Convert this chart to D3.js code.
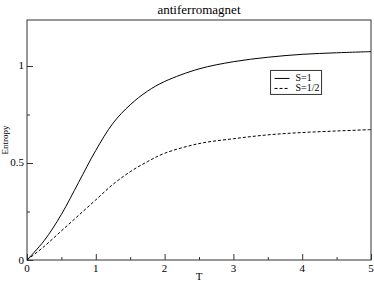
<!DOCTYPE html>
<html>
<head>
<meta charset="utf-8">
<script src="https://cdn.jsdelivr.net/npm/d3@7"></script>
<style>
  body { margin: 0; background: #fff; }
</style>
</head>
<body>
<svg id="chart"></svg>
<script>
// temperature grid and entropy
const temps = [0, 0.25, 0.5, 0.75, 1, 1.25, 1.5, 1.75, 2, 2.5, 3, 3.5, 4, 4.5, 5]
const entropyS1 = [0, 0.10, 0.235, 0.40, 0.565, 0.705, 0.80, 0.87, 0.92, 0.985, 1.022, 1.045, 1.06, 1.068, 1.074]
const entropyShalf = [0, 0.07, 0.15, 0.23, 0.31, 0.39, 0.455, 0.507, 0.55, 0.60, 0.625, 0.645, 0.657, 0.665, 0.672]
const seriesNames = ['S=1', 'S=1/2']
const xTicks = [0, 1, 2, 3, 4, 5]
const yTicks = [0, 0.5, 1]

const FONT = 'Liberation Serif'

const config = {
    width: 374, height: 281,
    margin: {top: 20, right: 3, bottom: 21, left: 27}
}
const w = config.width - config.margin.left - config.margin.right
const h = config.height - config.margin.top - config.margin.bottom

const svg = d3.select('#chart')
    .attr('width', config.width)
    .attr('height', config.height)
    .attr('font-family', FONT)

const chart = svg.append('g')
    .attr('transform', `translate(${config.margin.left},${config.margin.top})`)

const xScale = d3.scaleLinear().domain([0, 5]).range([0, w])
const yScale = d3.scaleLinear().domain([0, 1.237]).range([h, 0])

// frame
chart.append('rect')
    .attr('width', w).attr('height', h)
    .attr('fill', 'none').attr('stroke', '#333').attr('stroke-width', 1)

// ticks point inward, xmgrace-like
const xAxis = d3.axisTop(xScale).tickValues(xTicks).tickSize(6).tickFormat('')
const xMinor = d3.axisTop(xScale).tickValues(d3.range(0.5, 5, 1)).tickSize(3).tickFormat('')
const yAxis = d3.axisRight(yScale).tickValues(yTicks).tickSize(6).tickFormat('')
const yMinor = d3.axisRight(yScale).tickValues([0.25, 0.75]).tickSize(3).tickFormat('')

for (const ax of [xAxis, xMinor]) {
    chart.append('g').attr('transform', `translate(0,${h})`).call(ax)
        .call(g => g.select('.domain').remove())
        .selectAll('line').attr('stroke', '#333')
}
for (const ax of [yAxis, yMinor]) {
    chart.append('g').call(ax)
        .call(g => g.select('.domain').remove())
        .selectAll('line').attr('stroke', '#333')
}

// tick labels
chart.selectAll('.xlab').data(xTicks).join('text')
    .attr('class', 'xlab')
    .attr('x', d => xScale(d)).attr('y', h + 12)
    .attr('text-anchor', 'middle').attr('font-size', 11)
    .attr('font-family', FONT)
    .text(d => d)

chart.selectAll('.ylab').data(yTicks).join('text')
    .attr('class', 'ylab')
    .attr('x', -3).attr('y', d => yScale(d) + 3.5)
    .attr('text-anchor', 'end').attr('font-size', 11)
    .attr('font-family', FONT)
    .text(d => d)

// axis titles
chart.append('text')
    .attr('x', w / 2).attr('y', h + 20)
    .attr('text-anchor', 'middle').attr('font-size', 11)
    .attr('font-family', FONT)
    .text('T')

chart.append('text')
    .attr('transform', `translate(-19,${h / 2}) rotate(-90)`)
    .attr('text-anchor', 'middle').attr('font-size', 9)
    .attr('font-family', FONT)
    .text('Entropy')

svg.append('text')
    .attr('x', config.margin.left + w / 2).attr('y', 14)
    .attr('text-anchor', 'middle').attr('font-size', 13)
    .attr('font-family', FONT)
    .text('antiferromagnet')

// curves
const line = d3.line()
    .x(d => xScale(d[0]))
    .y(d => yScale(d[1]))
    .curve(d3.curveCatmullRom.alpha(0.5))

const series = [
    {name: seriesNames[0], values: d3.zip(temps, entropyS1), dash: null},
    {name: seriesNames[1], values: d3.zip(temps, entropyShalf), dash: '3,2'}
]

chart.selectAll('.curve').data(series).join('path')
    .attr('class', 'curve')
    .attr('d', d => line(d.values))
    .attr('fill', 'none')
    .attr('stroke', '#000')
    .attr('stroke-width', 1)
    .attr('stroke-dasharray', d => d.dash)

// legend
const legend = chart.append('g')
    .attr('transform', `translate(${xScale(3.54)},${yScale(0.977)})`)

legend.append('rect')
    .attr('width', 51).attr('height', 24)
    .attr('fill', '#fff').attr('stroke', '#333')

const rows = legend.selectAll('.row').data(series).join('g')
    .attr('class', 'row')
    .attr('transform', (d, i) => `translate(0,${8 + i * 10})`)

rows.append('line')
    .attr('x1', 4).attr('x2', 19)
    .attr('stroke', '#000')
    .attr('stroke-dasharray', d => d.dash)

rows.append('text')
    .attr('x', 25).attr('y', 3)
    .attr('font-size', 10)
    .attr('font-family', FONT)
    .text(d => d.name)
</script>
</body>
</html>
